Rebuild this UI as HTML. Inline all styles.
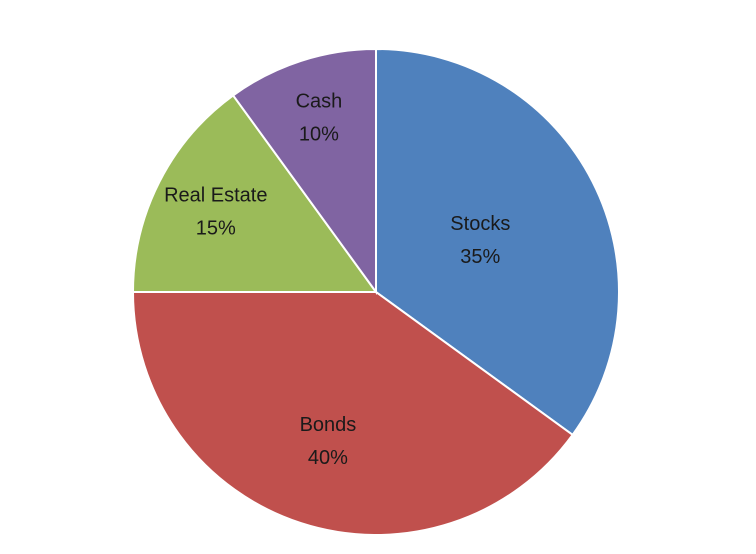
<!DOCTYPE html>
<html>
<head>
<meta charset="utf-8">
<style>
  html,body{margin:0;padding:0;background:#fff;}
  svg{display:block;}
  text{font-family:"Liberation Sans",sans-serif;font-size:20px;fill:#1a1a1a;}
</style>
</head>
<body>
<svg id="chart" width="756" height="554" viewBox="0 0 756 554"></svg>
<script>
const categories = ["Stocks", "Bonds", "Real Estate", "Cash"];
const values = [35, 40, 15, 10];
const valueLabels = ["35%", "40%", "15%", "10%"];
const colors = ["#4F81BD", "#C0504D", "#9BBB59", "#8064A2"];

const svg = document.getElementById('chart');
const NS = 'http://www.w3.org/2000/svg';
const cx = 376, cy = 292, r = 243;
const total = values.reduce((a, b) => a + b, 0);
function pt(angle, rad) {
  return [cx + rad * Math.sin(angle), cy - rad * Math.cos(angle)];
}
let start = 0;
values.forEach((v, i) => {
  const frac = v / total;
  const end = start + frac * 2 * Math.PI;
  const [x1, y1] = pt(start, r);
  const [x2, y2] = pt(end, r);
  const large = frac > 0.5 ? 1 : 0;
  const slug = categories[i].toLowerCase().replace(/\s+/g, '-');
  const path = document.createElementNS(NS, 'path');
  path.setAttribute('d', `M${cx},${cy} L${x1},${y1} A${r},${r} 0 ${large} 1 ${x2},${y2} Z`);
  path.setAttribute('fill', colors[i]);
  path.setAttribute('stroke', '#fff');
  path.setAttribute('stroke-width', '2');
  
  
  svg.appendChild(path);

  const mid = (start + end) / 2;
  const f = 0.8 - frac * 0.4 - 0.2 * Math.max(0, Math.sin(mid));
  const [lx, ly] = pt(mid, r * f);
  const t = document.createElementNS(NS, 'text');
  t.setAttribute('text-anchor', 'middle');
  
  
  const s1 = document.createElementNS(NS, 'tspan');
  s1.setAttribute('x', lx);
  s1.setAttribute('y', ly - 9);
  s1.textContent = categories[i];
  const s2 = document.createElementNS(NS, 'tspan');
  s2.setAttribute('x', lx);
  s2.setAttribute('y', ly + 24);
  s2.textContent = valueLabels[i];
  t.appendChild(s1);
  t.appendChild(s2);
  svg.appendChild(t);
  start = end;
});
</script>
</body>
</html>
